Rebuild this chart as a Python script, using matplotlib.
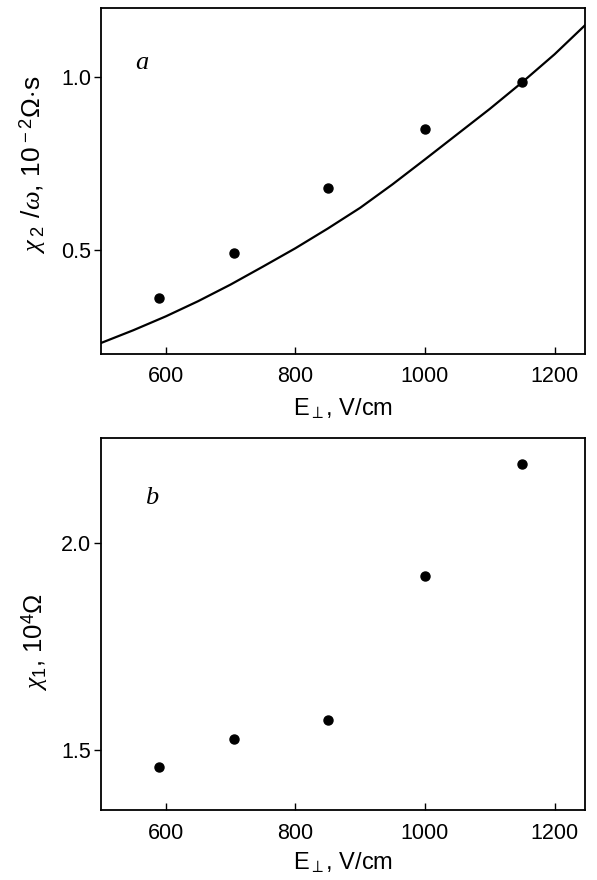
import numpy as np
import matplotlib
matplotlib.use("Agg")
import matplotlib.pyplot as plt

plt.rcParams['font.family'] = ['Liberation Sans', 'DejaVu Sans']
plt.rcParams['mathtext.fontset'] = 'custom'
plt.rcParams['mathtext.rm'] = 'Liberation Sans'
plt.rcParams['mathtext.it'] = 'Liberation Serif:italic'

# measured points
E = [590, 705, 850, 1000, 1150]
chi2_w = [0.36, 0.49, 0.68, 0.85, 0.985]   # panel a, 10^-2 Ohm*s
chi1 = [1.458, 1.526, 1.573, 1.919, 2.189]  # panel b, 10^4 Ohm

# theory curve for panel a
curve_E = [500, 550, 600, 650, 700, 750, 800, 850, 900, 950,
           1000, 1050, 1100, 1150, 1200, 1247]
curve_chi2 = [0.231, 0.268, 0.308, 0.352, 0.400, 0.452, 0.505, 0.562,
              0.622, 0.690, 0.762, 0.835, 0.908, 0.985, 1.066, 1.150]

xticks = [600, 800, 1000, 1200]

fig = plt.figure(figsize=(5.97, 8.8), dpi=100)
ax1 = fig.add_axes([0.169, 0.598, 0.811, 0.393])
ax2 = fig.add_axes([0.169, 0.079, 0.811, 0.423])

ax1.plot(curve_E, curve_chi2, color='black', lw=1.6)
ax1.plot(E, chi2_w, 'o', color='black', ms=6.5)
ax1.set_xlim(500, 1247)
ax1.set_ylim(0.2, 1.2)
ax1.set_yticks([0.5, 1.0])
ax1.set_ylabel(r'$\chi_{\;2}\;\,/\omega$, 10$^{\,-2}$$\Omega\!\cdot\!$s', fontsize=19)
ax1.yaxis.set_label_coords(-0.11, 0.546)
ax1.xaxis.set_label_coords(0.54, -0.125)
ax1.text(0.085, 0.841, 'a', transform=ax1.transAxes, fontsize=19,
         family='Liberation Serif', style='italic', ha='center', va='center')

ax2.plot(E, chi1, 'o', color='black', ms=6.5)
ax2.set_xlim(500, 1247)
ax2.set_ylim(1.354, 2.252)
ax2.set_yticks([1.5, 2.0])
ax2.set_ylabel(r'$\chi_{1}$, 10$^{4}\Omega$', fontsize=18.5)
ax2.yaxis.set_label_coords(-0.105, 0.453)
ax2.xaxis.set_label_coords(0.54, -0.108)
ax2.text(0.105, 0.84, 'b', transform=ax2.transAxes, fontsize=19,
         family='Liberation Serif', style='italic', ha='center', va='center')

for ax in (ax1, ax2):
    ax.set_xticks(xticks)
    ax.set_xlabel(r'E$_{\perp}$, V/cm', fontsize=17)
    ax.tick_params(axis='x', direction='in', length=5, width=1, labelsize=15.5, pad=9)
    ax.tick_params(axis='y', direction='out', length=5, width=1, labelsize=15.5, pad=2)
    for s in ax.spines.values():
        s.set_linewidth(1.3)

fig.savefig('out.png', dpi=100)
